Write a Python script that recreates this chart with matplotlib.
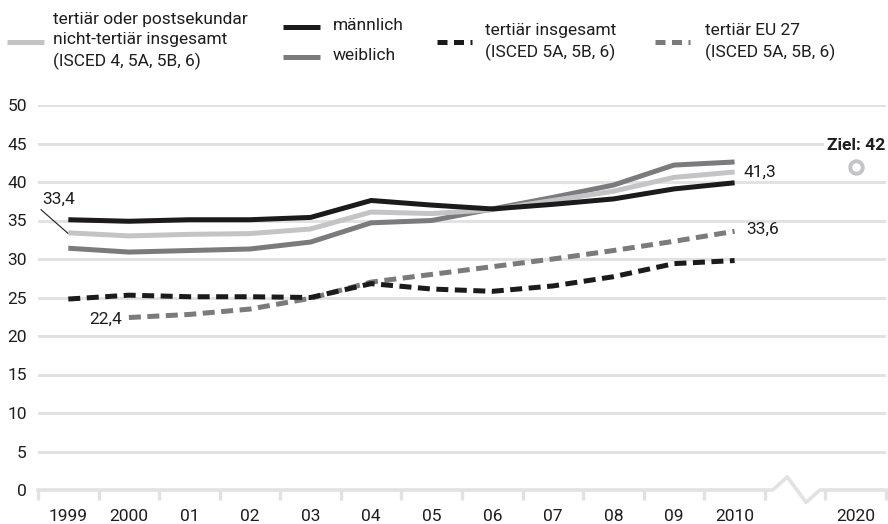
import numpy as np
import matplotlib
matplotlib.use("Agg")
import matplotlib.pyplot as plt
from matplotlib.lines import Line2D
from matplotlib import font_manager

# Schrift: schmale Sans, falls vorhanden
names = {f.name for f in font_manager.fontManager.ttflist}
fam = ["Liberation Sans Narrow", "DejaVu Sans"] if "Liberation Sans Narrow" in names else ["Roboto", "DejaVu Sans"]
plt.rcParams["font.family"] = fam

# Daten
jahre = ["1999", "2000", "01", "02", "03", "04", "05", "06", "07", "08", "09", "2010"]
gesamt = [33.4, 33.0, 33.2, 33.3, 33.9, 36.1, 35.9, 36.4, 37.6, 38.8, 40.6, 41.3]
maennlich = [35.1, 34.9, 35.1, 35.1, 35.4, 37.6, 37.0, 36.5, 37.1, 37.8, 39.1, 39.9]
weiblich = [31.4, 30.9, 31.1, 31.3, 32.2, 34.7, 35.0, 36.5, 38.0, 39.6, 42.2, 42.6]
tertiaer = [24.8, 25.3, 25.1, 25.1, 25.0, 26.8, 26.1, 25.8, 26.5, 27.7, 29.4, 29.8]
eu27_jahre = jahre[1:]
eu27 = [22.4, 22.8, 23.5, 24.9, 27.0, 28.0, 29.0, 30.0, 31.1, 32.3, 33.6]
ziel_jahr = "2020"
ziel = 42

c_hell = "#c4c4c6"
c_schwarz = "#1c1a1a"
c_dunkel = "#7b7b7d"
c_grid = "#e2e2e2"
c_text = "#1e1e1e"

fig = plt.figure(figsize=(8.88, 5.24), dpi=100)
ax = fig.add_axes([38 / 888, 34 / 524, 848 / 888, 385 / 524])

x = np.arange(len(jahre))
x_eu = np.arange(1, len(jahre))
x_ziel = len(jahre) + 1

lw = 3.6
ax.plot(x, gesamt, color=c_hell, lw=lw, solid_capstyle="butt", zorder=4)
ax.plot(x, weiblich, color=c_dunkel, lw=lw, solid_capstyle="butt", zorder=3)
ax.plot(x, maennlich, color=c_schwarz, lw=lw, solid_capstyle="butt", zorder=5)
ax.plot(x, tertiaer, color=c_schwarz, lw=lw, dashes=(2.4, 1.3), zorder=5)
ax.plot(x_eu, eu27, color=c_dunkel, lw=lw, dashes=(2.4, 1.3), zorder=4)

# Ziel
ax.plot([x_ziel], [ziel], marker="o", ms=9, mfc="white", mec=c_hell, mew=2.8, zorder=6)
ax.text(x_ziel, 44.8, f"Ziel: {ziel}", ha="center", va="center", fontsize=12.5,
        fontweight="bold", color=c_text, zorder=7,
        bbox=dict(boxstyle="square,pad=0.15", fc="white", ec="none"))

# Beschriftungen
ax.text(-0.43, 37.7, "33,4", ha="left", va="center", fontsize=12.5, color=c_text)
ax.plot([-0.45, 0.0], [36.4, 33.3], color=c_text, lw=0.8)
ax.text(11.14, 41.3, "41,3", ha="left", va="center", fontsize=12.5, color=c_text)
ax.text(11.2, 33.8, "33,6", ha="left", va="center", fontsize=12.5, color=c_text)
ax.text(0.89, 22.2, "22,4", ha="right", va="center", fontsize=12.5, color=c_text)

# Gitter
for v in range(5, 51, 5):
    ax.axhline(v, color=c_grid, lw=2.2, zorder=1)

# Nulllinie mit Achsenbruch
bx = [-0.5, 11.63, 11.87, 12.18, 12.41, 13.5]
by = [0, 0, 1.7, -1.6, 0, 0]
ax.plot(bx, by, color=c_grid, lw=2.6, clip_on=False, zorder=2)

ax.set_xlim(-0.5, 13.5)
ax.set_ylim(0, 50)
ax.set_xticks(np.arange(-0.5, 14, 1))
ax.set_xticklabels([])
ax.tick_params(axis="x", which="major", length=7, width=2.4, color=c_grid)
ax.set_xticks(list(x) + [x_ziel], minor=True)
ax.set_xticklabels(jahre + [ziel_jahr], minor=True)
ax.tick_params(axis="x", which="minor", length=0, pad=14, labelsize=12.5, labelcolor=c_text)
ax.set_yticks(range(0, 51, 5))
ax.tick_params(axis="y", length=0, pad=8, labelsize=12.5, labelcolor=c_text)
for s in ax.spines.values():
    s.set_visible(False)

# Legende
def handle(x0, x1, y, color, dashed=False):
    ln = Line2D([x0 / 888, x1 / 888], [1 - y / 524] * 2, color=color, lw=lw,
                transform=fig.transFigure, solid_capstyle="butt")
    if dashed:
        ln.set_dashes((2.0, 1.3))
    fig.add_artist(ln)

def ltext(x0, y, s):
    fig.text(x0 / 888, 1 - y / 524, s, ha="left", va="center", fontsize=12.5,
             color=c_text, linespacing=1.4)

handle(7, 44, 42, c_hell)
ltext(53, 41, "tertiär oder postsekundar\nnicht-tertiär insgesamt\n(ISCED 4, 5A, 5B, 6)")
handle(283, 320, 27, c_schwarz)
ltext(333, 25, "männlich")
handle(283, 320, 57, c_dunkel)
ltext(333, 56, "weiblich")
handle(437, 472, 42, c_schwarz, dashed=True)
ltext(485, 42, "tertiär insgesamt\n(ISCED 5A, 5B, 6)")
handle(655, 690, 42, c_dunkel, dashed=True)
ltext(705, 42, "tertiär EU 27\n(ISCED 5A, 5B, 6)")

fig.savefig("out.png", dpi=100)
